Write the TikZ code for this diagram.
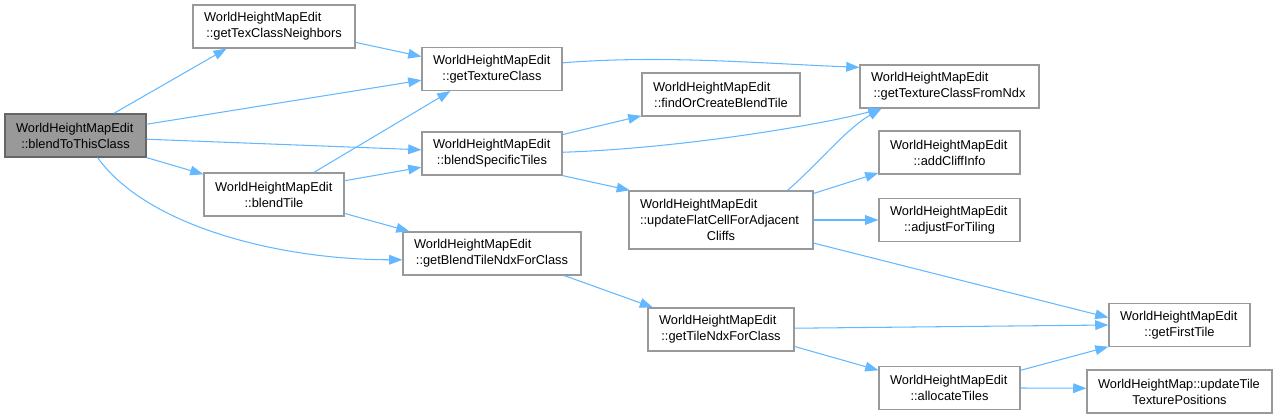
\documentclass[tikz,border=0pt]{standalone}
\usepackage{fontspec}
\setmainfont{Liberation Sans}
\usepackage{xcolor}
\usetikzlibrary{arrows.meta}
\definecolor{edgeblue}{HTML}{63B8FF}
\definecolor{boxgray}{HTML}{999999}
\definecolor{rootgray}{HTML}{666666}
% last label line is centred, the others stay flush left
\newcommand{\lastline}[1]{\makebox[\hsize]{#1}}

\begin{document}
\begin{tikzpicture}[
  x=0.02cm, y=-0.02cm,
  func/.style={
    rectangle, draw=boxgray, fill=white, line width=0.7pt,
    align=left, inner xsep=0.22cm, inner ysep=2pt,
    minimum height=0.86cm, text width=#1,
    font=\fontsize{7.3}{9.2}\selectfont
  },
  root/.style={func=#1, fill=boxgray, draw=rootgray},
  call/.style={-{Triangle[length=7.5pt, width=5.5pt]}, line width=0.6pt, color=edgeblue}
]
\useasboundingbox (0,0) rectangle (1278,419);

% Caller
\node[root=2.38cm] (blendto) at (75.5,135.5)
      {WorldHeightMapEdit\\\lastline{::blendToThisClass}};

% Second column
\node[func=2.80cm] (texnbrs) at (274,26.5)
      {WorldHeightMapEdit\\\lastline{::getTexClassNeighbors}};
\node[func=2.36cm] (blendtile) at (274,194.5)
      {WorldHeightMapEdit\\\lastline{::blendTile}};

% Third column
\node[func=2.36cm] (texclass) at (492,69)
      {WorldHeightMapEdit\\\lastline{::getTextureClass}};
\node[func=2.36cm] (specific) at (492,153.5)
      {WorldHeightMapEdit\\\lastline{::blendSpecificTiles}};
\node[func=3.12cm] (blendndx) at (492,253.5)
      {WorldHeightMapEdit\\\lastline{::getBlendTileNdxForClass}};

% Fourth column
\node[func=2.72cm] (findblend) at (721,94.5)
      {WorldHeightMapEdit\\\lastline{::findOrCreateBlendTile}};
\node[func=3.24cm, minimum height=1.16cm] (flatcell) at (721,220)
      {WorldHeightMapEdit\\::updateFlatCellForAdjacent\\\lastline{Cliffs}};
\node[func=2.48cm] (tilendx) at (721,329.5)
      {WorldHeightMapEdit\\\lastline{::getTileNdxForClass}};

% Fifth column
\node[func=3.14cm] (classndx) at (949.5,86.5)
      {WorldHeightMapEdit\\\lastline{::getTextureClassFromNdx}};
\node[func=2.38cm] (cliffinfo) at (949.5,152.5)
      {WorldHeightMapEdit\\\lastline{::addCliffInfo}};
\node[func=2.38cm] (adjtiling) at (949.5,220)
      {WorldHeightMapEdit\\\lastline{::adjustForTiling}};
\node[func=2.38cm] (alloc) at (949.5,388)
      {WorldHeightMapEdit\\\lastline{::allocateTiles}};

% Last column
\node[func=2.38cm] (firsttile) at (1179.5,325)
      {WorldHeightMapEdit\\\lastline{::getFirstTile}};
\node[func=3.26cm] (texpos) at (1179.5,391.5)
      {WorldHeightMap::updateTile\\\lastline{TexturePositions}};

% Calls from blendToThisClass
\draw[call] (blendto.30) -- (texnbrs.205);
\draw[call] (blendto.9) -- (texclass.189);
\draw[call] (blendto.357) -- (specific.177);
\draw[call] (blendto.south east) -- (blendtile.164);
\draw[call] (blendto.315) .. controls +(50,70) and +(-120,0) .. (blendndx.184);

% Second column calls
\draw[call] (texnbrs.349) -- (texclass.170);
\draw[call] (blendtile.29) -- (texclass.208);
\draw[call] (blendtile.11) -- (specific.191);
\draw[call] (blendtile.345) -- (blendndx.165);

% Third column calls
\draw[call] (texclass.5) .. controls +(100,-8) and +(-100,-4) .. (classndx.168);
\draw[call] (specific.15) -- (findblend.195);
\draw[call] (specific.1) .. controls +(120,-4) and +(-60,16) .. (classndx.198);
\draw[call] (specific.south east) -- (flatcell.162);
\draw[call] (blendndx.343) -- (tilendx.162);

% updateFlatCellForAdjacentCliffs
\draw[call] (flatcell.24) .. controls +(30,-26) and +(-35,20) .. (classndx.198);
\draw[call] (flatcell.16) -- (cliffinfo.196);
\draw[call] (flatcell.east) -- (adjtiling.west);
\draw[call] (flatcell.346) -- (firsttile.174);

% Tile index chain
\draw[call] (tilendx.1) -- (firsttile.180);
\draw[call] (tilendx.347) -- (alloc.166);
\draw[call] (alloc.14) -- (firsttile.197);
\draw[call] (alloc.east) -- (texpos.178);

\end{tikzpicture}
\end{document}
